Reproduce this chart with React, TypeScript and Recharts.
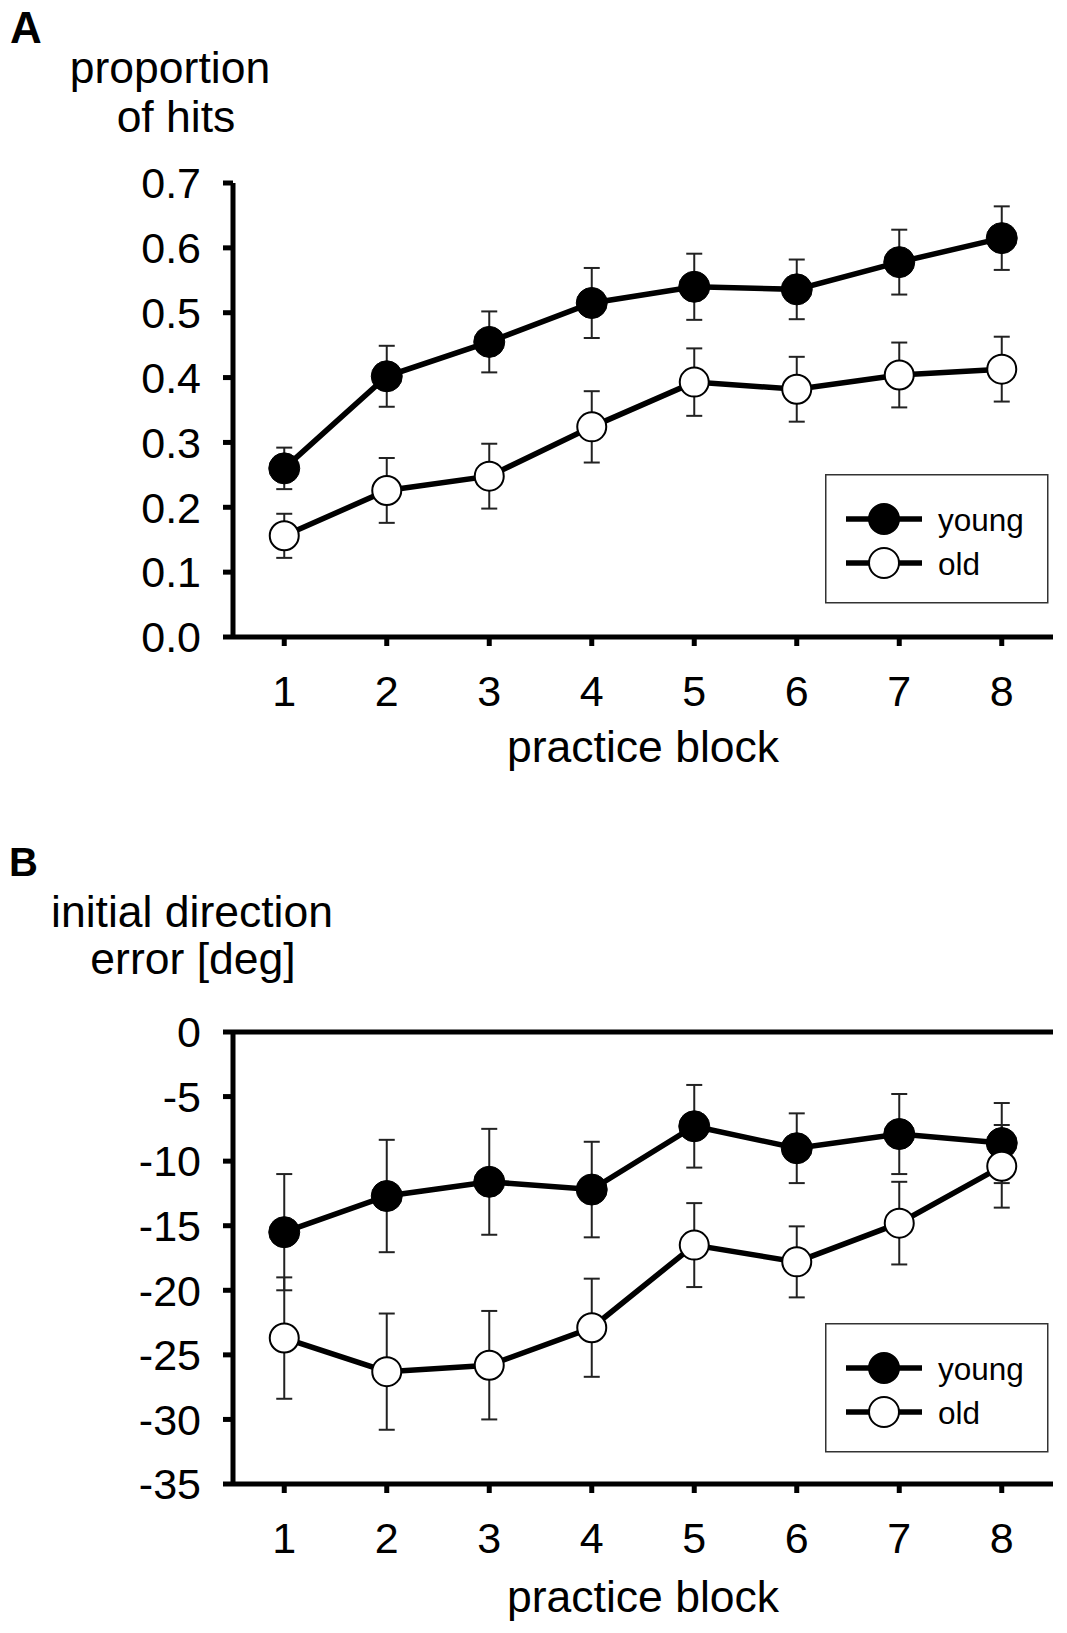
import React from "react";
import {
  LineChart,
  Line,
  XAxis,
  YAxis,
  ErrorBar,
  ReferenceLine,
  Legend,
} from "recharts";

const blocks = [1, 2, 3, 4, 5, 6, 7, 8];
const blockTicks = [1, 2, 3, 4, 5, 6, 7, 8];

// panel A: proportion of hits
const hitsYoung = [0.26, 0.402, 0.455, 0.515, 0.54, 0.536, 0.578, 0.615];
const hitsYoungErr = [0.032, 0.047, 0.047, 0.054, 0.051, 0.046, 0.05, 0.049];
const hitsOld = [0.156, 0.226, 0.248, 0.324, 0.393, 0.382, 0.404, 0.413];
const hitsOldErr = [0.034, 0.05, 0.05, 0.055, 0.052, 0.05, 0.05, 0.05];
const hitsTicks = [0, 0.1, 0.2, 0.3, 0.4, 0.5, 0.6, 0.7];

// panel B: initial direction error [deg]
const dirYoung = [-15.5, -12.7, -11.6, -12.2, -7.3, -9.0, -7.9, -8.6];
const dirYoungErr = [4.5, 4.35, 4.1, 3.7, 3.2, 2.7, 3.1, 3.1];
const dirOld = [-23.7, -26.3, -25.8, -22.9, -16.5, -17.8, -14.8, -10.4];
const dirOldErr = [4.7, 4.5, 4.2, 3.8, 3.25, 2.75, 3.2, 3.2];
const dirTicks = [0, -5, -10, -15, -20, -25, -30, -35];

const groups = [
  { name: "young", fill: "#000" },
  { name: "old", fill: "#fff" },
];

const FONT = "'Liberation Sans', Arial, Helvetica, sans-serif";

const hitsData = blocks.map((b, i) => ({
  block: b,
  young: hitsYoung[i],
  youngErr: hitsYoungErr[i],
  old: hitsOld[i],
  oldErr: hitsOldErr[i],
}));

const dirData = blocks.map((b, i) => ({
  block: b,
  young: dirYoung[i],
  youngErr: dirYoungErr[i],
  old: dirOld[i],
  oldErr: dirOldErr[i],
}));

const LegendBox = () => (
  <svg width={224} height={130} style={{ display: "block" }}>
    <rect x={0.75} y={0.75} width={222} height={128} fill="#fff" stroke="#333" strokeWidth={1.5} />
    {groups.map((g, i) => {
      const cy = 45 + i * 44;
      return (
        <g key={g.name}>
          <line x1={21} x2={97} y1={cy} y2={cy} stroke="#000" strokeWidth={5.5} />
          <circle cx={59} cy={cy} r={15} fill={g.fill} stroke="#000" strokeWidth={2} />
          <text x={113} y={cy + 12} fontSize={31.5} fontFamily={FONT} fill="#000">
            {g.name}
          </text>
        </g>
      );
    })}
  </svg>
);

const tickStyle = { fontSize: 43, fill: "#000", fontFamily: FONT };
const axisStroke = { stroke: "#000", strokeWidth: 5 };

const Panel = ({
  data,
  domain,
  ticks,
  format,
  height,
  marginTop,
  marginBottom,
  legendTop,
  topLine,
}: {
  data: any[];
  domain: [number, number];
  ticks: number[];
  format: (v: number) => string;
  height: number;
  marginTop: number;
  marginBottom: number;
  legendTop: number;
  topLine?: boolean;
}) => (
  <LineChart
    width={1067}
    height={height}
    data={data}
    margin={{ top: marginTop, right: 14, bottom: marginBottom, left: 153 }}
  >
    <XAxis
      dataKey="block"
      type="number"
      domain={[0.5, 8.5]}
      ticks={blockTicks}
      height={40}
      tick={tickStyle}
      tickSize={9}
      tickMargin={29}
      axisLine={axisStroke}
      tickLine={axisStroke}
    />
    <YAxis
      type="number"
      domain={domain}
      ticks={ticks}
      tickFormatter={format}
      width={80}
      tick={tickStyle}
      tickSize={10}
      tickMargin={22}
      axisLine={axisStroke}
      tickLine={axisStroke}
      interval={0}
    />
    {topLine && <ReferenceLine y={0} stroke="#000" strokeWidth={5} />}
    <Legend
      layout="vertical"
      align="center"
      verticalAlign="middle"
      content={() => <LegendBox />}
      wrapperStyle={{ left: 825, top: legendTop, width: 224, height: 130 }}
    />
    <Line
      dataKey="young"
      stroke="#000"
      strokeWidth={5.5}
      dot={{ r: 15.5, fill: "#000", stroke: "#000", strokeWidth: 1 }}
      activeDot={false}
      isAnimationActive={false}
    >
      <ErrorBar dataKey="youngErr" direction="y" width={8} stroke="#222" strokeWidth={2} />
    </Line>
    <Line
      dataKey="old"
      stroke="#000"
      strokeWidth={5.5}
      dot={{ r: 14.5, fill: "#fff", stroke: "#000", strokeWidth: 2 }}
      activeDot={false}
      isAnimationActive={false}
    >
      <ErrorBar dataKey="oldErr" direction="y" width={8} stroke="#222" strokeWidth={2} />
    </Line>
  </LineChart>
);

export default function App() {
  return (
    <div
      style={{
        position: "absolute",
        left: 0,
        top: 0,
        width: 1067,
        height: 1633,
        background: "#fff",
        fontFamily: FONT,
      }}
    >
      <div style={{ position: "absolute", left: 0, top: 0 }}>
        <Panel
          data={hitsData}
          domain={[0, 0.7]}
          ticks={hitsTicks}
          format={(v) => v.toFixed(1)}
          height={800}
          marginTop={183}
          marginBottom={123}
          legendTop={474}
        />
      </div>
      <div style={{ position: "absolute", left: 0, top: 800 }}>
        <Panel
          data={dirData}
          domain={[-35, 0]}
          ticks={dirTicks}
          format={(v) => String(v)}
          height={833}
          marginTop={232}
          marginBottom={109}
          legendTop={523}
          topLine
        />
      </div>
      <svg
        width={1067}
        height={1633}
        style={{ position: "absolute", left: 0, top: 0, pointerEvents: "none" }}
        fontFamily={FONT}
        fill="#000"
      >
        <text x={10} y={43} fontSize={44} fontWeight="bold">A</text>
        <text x={170} y={83} fontSize={44.5} textAnchor="middle">proportion</text>
        <text x={176} y={132} fontSize={44.5} textAnchor="middle">of hits</text>
        <text x={643} y={762} fontSize={44.5} textAnchor="middle">practice block</text>

        <text x={9} y={876} fontSize={40} fontWeight="bold">B</text>
        <text x={192} y={927} fontSize={44.5} textAnchor="middle">initial direction</text>
        <text x={193} y={974} fontSize={44.5} textAnchor="middle">error [deg]</text>
        <text x={643} y={1612} fontSize={44.5} textAnchor="middle">practice block</text>
      </svg>
    </div>
  );
}
